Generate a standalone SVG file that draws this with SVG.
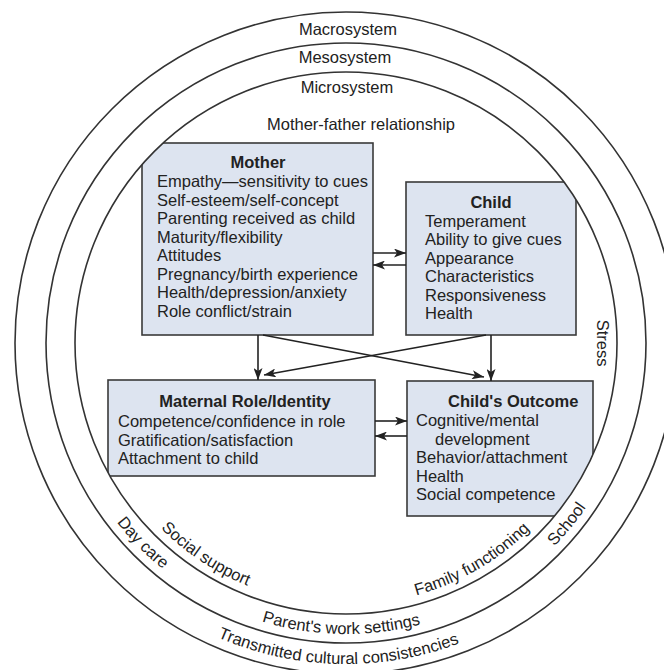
<svg xmlns="http://www.w3.org/2000/svg" width="664" height="670" viewBox="0 0 664 670">
<defs>
<style>
.t{font-family:"Liberation Sans",Arial,Helvetica,sans-serif;font-size:16.5px;fill:#222}
.b{font-weight:bold}
.m{text-anchor:middle}
.box{fill:#dde4f0;stroke:#3a3a3a;stroke-width:1.6}
.ring{fill:none;stroke:#333;stroke-width:1.6}
.conn{fill:none;stroke:#222;stroke-width:1.6}
</style>
<marker id="ah" viewBox="0 0 12 9" refX="12" refY="4.5" markerWidth="12" markerHeight="9" orient="auto" markerUnits="userSpaceOnUse">
<path d="M0,0 L12,4.5 L0,9 L3,4.5 z" fill="#222"/>
</marker>
<clipPath id="innerClip"><circle cx="346" cy="343" r="271"/></clipPath>
<path id="pMicro" d="M84,343 A262,262 0 0 0 608,343"/>
<path id="pMeso" d="M55,343 A291,291 0 0 0 637,343"/>
<path id="pMacro" d="M25,343 A321,321 0 0 0 667,343"/>
</defs>

<g id="nodes" clip-path="url(#innerClip)">
<g id="mother">
<rect class="box" x="142" y="143" width="231" height="192"/>
</g>
<g id="child">
<rect class="box" x="406" y="182" width="170" height="153"/>
</g>
<g id="maternal-role">
<rect class="box" x="108" y="380" width="267" height="96"/>
</g>
<g id="childs-outcome">
<rect class="box" x="407" y="381" width="186" height="135"/>
</g>
</g>

<g id="rings">
<circle class="ring" cx="346" cy="343" r="271"/>
<circle class="ring" cx="346" cy="343" r="300"/>
<circle class="ring" cx="346" cy="343" r="331"/>
</g>

<g id="mother-text">
<text class="t b m" x="258" y="168">Mother</text>
<text class="t" x="157" y="187">Empathy—sensitivity to cues</text>
<text class="t" x="157" y="205.5">Self-esteem/self-concept</text>
<text class="t" x="157" y="224">Parenting received as child</text>
<text class="t" x="157" y="242.5">Maturity/flexibility</text>
<text class="t" x="157" y="261">Attitudes</text>
<text class="t" x="157" y="279.5">Pregnancy/birth experience</text>
<text class="t" x="157" y="298">Health/depression/anxiety</text>
<text class="t" x="157" y="316.5">Role conflict/strain</text>
</g>

<g id="child-text">
<text class="t b m" x="491" y="207.5">Child</text>
<text class="t" x="425" y="226.5">Temperament</text>
<text class="t" x="425" y="245">Ability to give cues</text>
<text class="t" x="425" y="263.5">Appearance</text>
<text class="t" x="425" y="282">Characteristics</text>
<text class="t" x="425" y="300.5">Responsiveness</text>
<text class="t" x="425" y="319">Health</text>
</g>

<g id="maternal-role-text">
<text class="t b m" x="245" y="407">Maternal Role/Identity</text>
<text class="t" x="118" y="427">Competence/confidence in role</text>
<text class="t" x="118" y="445.5">Gratification/satisfaction</text>
<text class="t" x="118" y="464">Attachment to child</text>
</g>

<g id="childs-outcome-text">
<text class="t b" x="448" y="407">Child's Outcome</text>
<text class="t" x="416" y="426">Cognitive/mental</text>
<text class="t" x="435" y="444.5">development</text>
<text class="t" x="416" y="463">Behavior/attachment</text>
<text class="t" x="416" y="481.5">Health</text>
<text class="t" x="416" y="500">Social competence</text>
</g>

<g id="connectors">
<line class="conn" x1="373" y1="253" x2="406" y2="253" marker-end="url(#ah)"/>
<line class="conn" x1="406" y1="265" x2="373" y2="265" marker-end="url(#ah)"/>
<line class="conn" x1="375" y1="421" x2="407" y2="421" marker-end="url(#ah)"/>
<line class="conn" x1="407" y1="436" x2="375" y2="436" marker-end="url(#ah)"/>
<line class="conn" x1="258" y1="335" x2="258" y2="380" marker-end="url(#ah)"/>
<line class="conn" x1="491" y1="335" x2="491" y2="381" marker-end="url(#ah)"/>
<line class="conn" x1="263" y1="335" x2="484" y2="377" marker-end="url(#ah)"/>
<line class="conn" x1="486" y1="335" x2="264" y2="375" marker-end="url(#ah)"/>
</g>

<g id="labels">
<text class="t m" x="348" y="35">Macrosystem</text>
<text class="t m" x="345" y="63">Mesosystem</text>
<text class="t m" x="347" y="93">Microsystem</text>
<text class="t m" x="361" y="130">Mother-father relationship</text>
<text class="t m" transform="translate(597,343) rotate(90)">Stress</text>
<text class="t m"><textPath href="#pMicro" startOffset="258">Social support</textPath></text>
<text class="t m"><textPath href="#pMicro" startOffset="549">Family functioning</textPath></text>
<text class="t m"><textPath href="#pMeso" startOffset="226">Day care</textPath></text>
<text class="t m"><textPath href="#pMeso" startOffset="714">School</textPath></text>
<text class="t m"><textPath href="#pMeso" startOffset="452">Parent's work settings</textPath></text>
<text class="t m"><textPath href="#pMacro" startOffset="496">Transmitted cultural consistencies</textPath></text>
</g>
</svg>
